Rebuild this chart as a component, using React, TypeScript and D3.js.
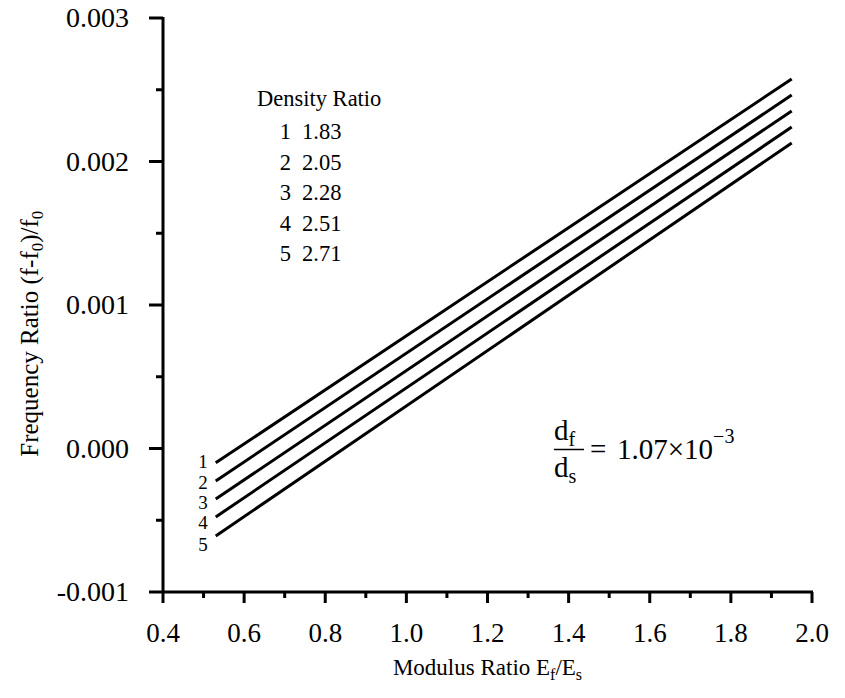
import { scaleLinear, line, range } from 'd3'

const width = 845,
      height = 698,
      font = '"Liberation Serif", "Times New Roman", serif'

// plot frame in pixels
const left = 163, right = 812, top = 18, bottom = 592

// density ratio legend
const curveIds = ['1', '2', '3', '4', '5']
const densityRatios = ['1.83', '2.05', '2.28', '2.51', '2.71']

// each line is straight: value at left end and at right end
const xStart = 0.53
const xEnd = 1.95
const yAtStart = [-0.0001, -0.000226, -0.000352, -0.000477, -0.00061]
const yAtEnd = [0.002575, 0.002463, 0.002352, 0.00224, 0.002129]

const xMajor = [0.4, 0.6, 0.8, 1.0, 1.2, 1.4, 1.6, 1.8, 2.0]
const xMinor = [0.5, 0.7, 0.9, 1.1, 1.3, 1.5, 1.7, 1.9]
const yMajor = [-0.001, 0, 0.001, 0.002, 0.003]
const yMinor = [-0.0005, 0.0005, 0.0015, 0.0025]

const x = scaleLinear().domain([0.4, 2.0]).range([left, right])
const y = scaleLinear().domain([-0.001, 0.003]).range([bottom, top])

const path = line<[number, number]>()
  .x(d => x(d[0]))
  .y(d => y(d[1]))

export default function App() {
  return (
    <svg width={width} height={height}
         style={{ position: 'absolute', left: 0, top: 0, background: '#fff' }}
         fontFamily={font} fill='#000'>

      {/* axes */}
      <g stroke='#000' strokeWidth='3' fill='none'>
        <line x1={left} y1={top - 1} x2={left} y2={bottom + 1} />
        <line x1={left - 1} y1={bottom} x2={right + 1} y2={bottom} />
        { yMajor.map(v => <line key={v} x1={left - 14} y1={y(v)} x2={left} y2={y(v)} />) }
        { yMinor.map(v => <line key={v} x1={left - 7} y1={y(v)} x2={left} y2={y(v)} />) }
        { xMajor.map(v => <line key={v} x1={x(v)} y1={bottom} x2={x(v)} y2={bottom + 11} />) }
        { xMinor.map(v => <line key={v} x1={x(v)} y1={bottom} x2={x(v)} y2={bottom + 6} />) }
      </g>

      <g fontSize='28' textAnchor='end'>
        { yMajor.map(v =>
          <text key={v} x={left - 34} y={y(v) + 9}>{v.toFixed(3)}</text>
        )}
      </g>
      <g fontSize='27' textAnchor='middle'>
        { xMajor.map(v =>
          <text key={v} x={x(v)} y={bottom + 50}>{v.toFixed(1)}</text>
        )}
      </g>

      {/* axis titles */}
      <text x={(left + right) / 2} y={height - 23} fontSize='23' textAnchor='middle'>
        Modulus Ratio E<tspan fontSize='16' dy='5'>f</tspan><tspan dy='-5'>/E</tspan><tspan fontSize='16' dy='5'>s</tspan>
      </text>
      <text transform={`translate(38, ${y(0.0008)}) rotate(-90)`} fontSize='25' textAnchor='middle'>
        Frequency Ratio (f-f<tspan fontSize='17' dy='5'>0</tspan><tspan dy='-5'>)/f</tspan><tspan fontSize='17' dy='5'>0</tspan>
      </text>

      {/* curves */}
      <g stroke='#000' strokeWidth='3' fill='none'>
        { curveIds.map((id, i) =>
          <path key={id} d={path([[xStart, yAtStart[i]], [xEnd, yAtEnd[i]]]) ?? ''} />
        )}
      </g>
      <g fontSize='19' textAnchor='end'>
        { curveIds.map((id, i) =>
          <text key={id} x={x(xStart) - 8} y={y(yAtStart[i]) + 5.5 + i * 2.25}>{id}</text>
        )}
      </g>

      {/* legend */}
      <g fontSize='22.5'>
        <text x={257} y={106}>Density Ratio</text>
        { range(curveIds.length).map(i =>
          <g key={i}>
            <text x={291} y={139 + i * 30.5} textAnchor='end'>{curveIds[i]}</text>
            <text x={302} y={139 + i * 30.5}>{densityRatios[i]}</text>
          </g>
        )}
      </g>

      {/* annotation */}
      <g fontSize='29'>
        <text x={554} y={y(0) - 9}>d<tspan fontSize='20' dy='6'>f</tspan></text>
        <line x1={554} x2={584} y1={y(0) + 1} y2={y(0) + 1} stroke='#000' strokeWidth='1.5' />
        <text x={554} y={y(0) + 28}>d<tspan fontSize='20' dy='6'>s</tspan></text>
        <text x={590} y={y(0) + 10}>=</text>
        <text x={617} y={y(0) + 10}>1.07×10<tspan fontSize='20' dy='-16'>−3</tspan></text>
      </g>
    </svg>
  )
}
